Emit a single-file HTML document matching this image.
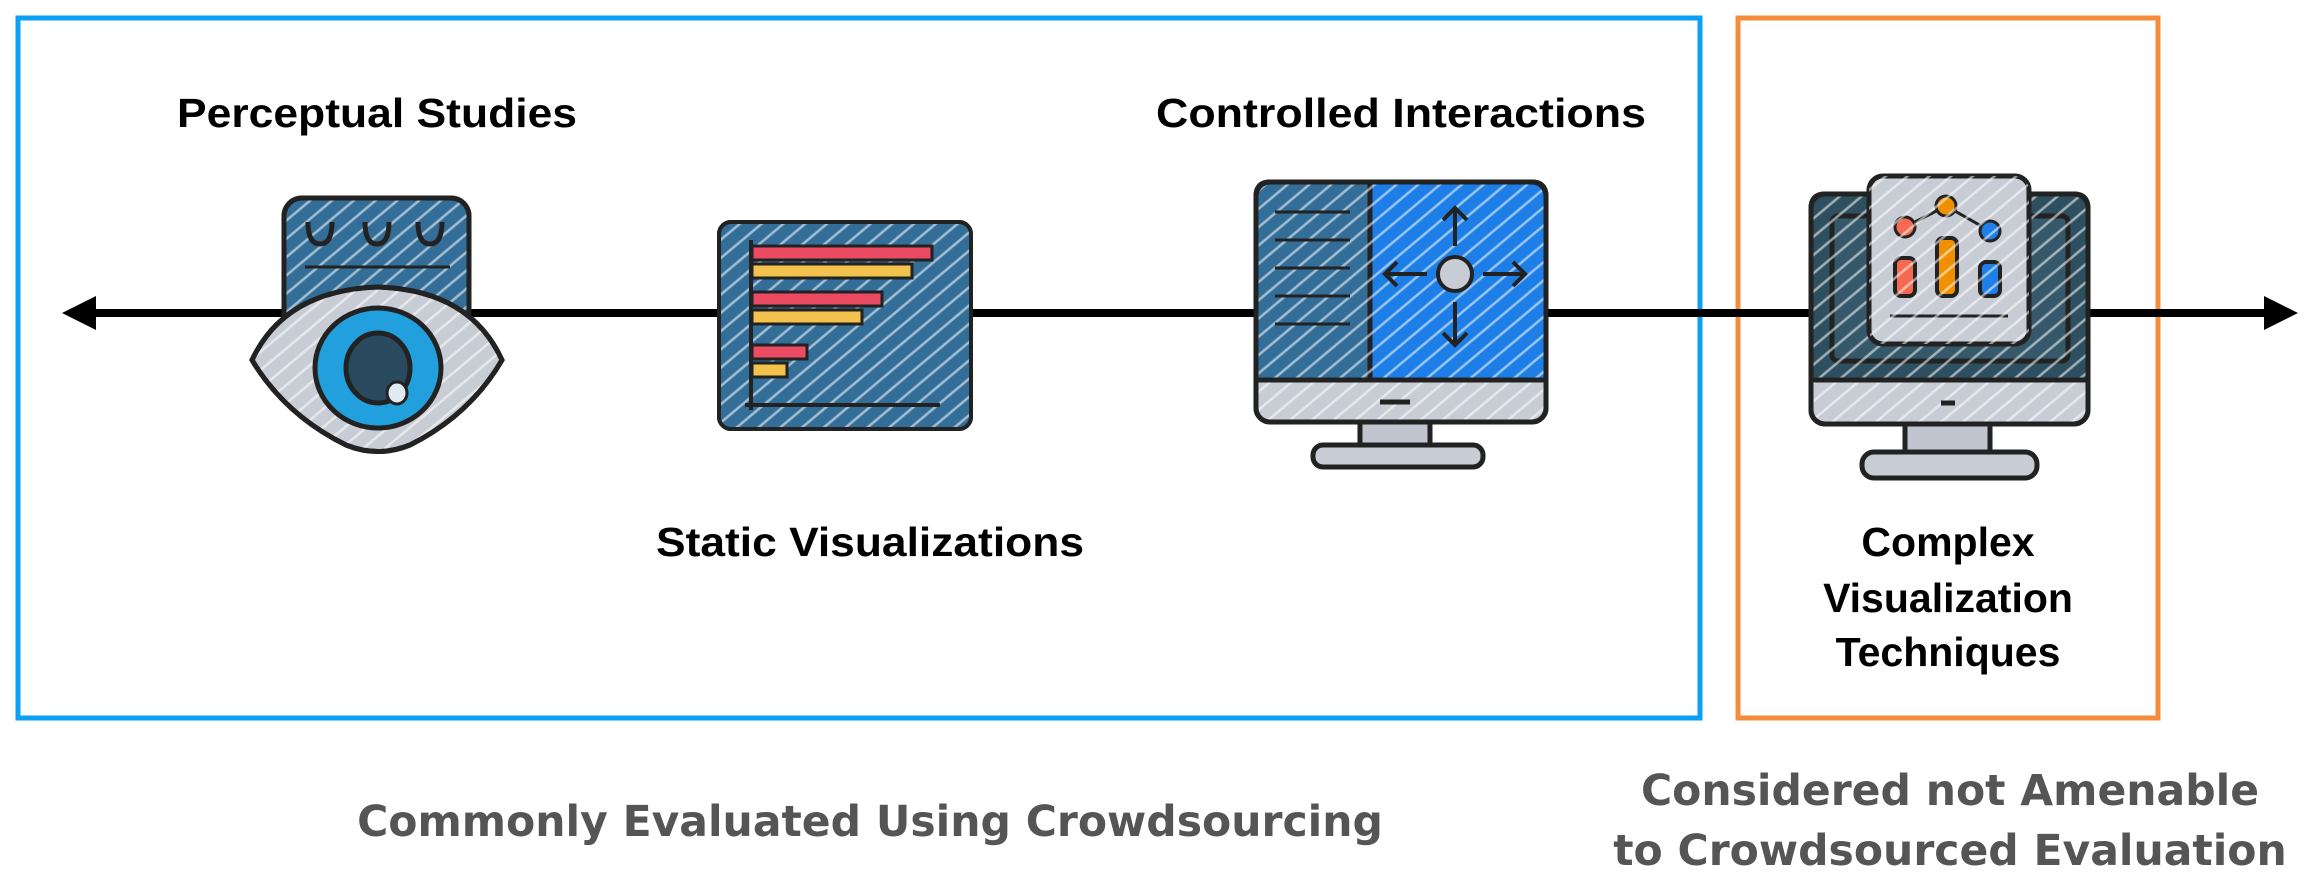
<!DOCTYPE html>
<html><head><meta charset="utf-8"><style>
html,body{margin:0;padding:0;background:#fff;}
svg{display:block;}
.t{font-family:"Liberation Sans",sans-serif;font-weight:bold;fill:#000;font-size:41px;text-anchor:middle;}
.g{font-family:"DejaVu Sans","Liberation Sans",sans-serif;font-weight:bold;fill:#555;font-size:42.5px;text-anchor:middle;}
</style></head><body>
<svg width="2308" height="888" viewBox="0 0 2308 888" xmlns="http://www.w3.org/2000/svg">
<defs>
<pattern id="h" width="14" height="14" patternUnits="userSpaceOnUse" patternTransform="rotate(-40)">
<rect width="14" height="14" fill="none"/><line x1="0" y1="3" x2="14" y2="3" stroke="#fff" stroke-opacity="0.55" stroke-width="2.5"/></pattern>
</defs>
<rect x="18" y="18" width="1682" height="700" fill="none" stroke="#0aa0f5" stroke-width="5"/>
<rect x="1738" y="18" width="420" height="700" fill="none" stroke="#f58c3c" stroke-width="5"/>
<line x1="90" y1="313" x2="2270" y2="313" stroke="#000" stroke-width="8"/>
<polygon points="62,313 96,296 96,330" fill="#000"/>
<polygon points="2298,313 2264,296 2264,330" fill="#000"/>

<!-- eye -->
<g stroke="#222" stroke-width="5">
<rect x="284" y="198" width="185" height="150" rx="18" fill="#336e98"/>
<rect x="284" y="198" width="185" height="150" rx="18" fill="url(#h)"/>
<line x1="305" y1="267" x2="450" y2="267" stroke-width="3"/>
<path d="M308,222 q0,22 12,22 q12,0 12,-22" fill="none"/><path d="M365,222 q0,22 12,22 q12,0 12,-22" fill="none"/><path d="M418,222 q0,22 12,22 q12,0 12,-22" fill="none"/>
<path d="M378,287 Q470,290 502,360 Q470,415 410,445 Q378,458 346,445 Q285,415 252,360 Q285,290 378,287Z" fill="#c8ccd4"/>
<path d="M378,287 Q470,290 502,360 Q470,415 410,445 Q378,458 346,445 Q285,415 252,360 Q285,290 378,287Z" fill="url(#h)"/>
<ellipse cx="378" cy="368" rx="63" ry="60" fill="#22a0dd"/>
<ellipse cx="378" cy="368" rx="32" ry="35" fill="#2a4a60"/>
<ellipse cx="397" cy="393" rx="10" ry="11" fill="#e0eaf2" stroke-width="3"/>
</g>

<!-- bar chart -->
<g stroke="#222" stroke-width="4">
<rect x="719" y="222" width="252" height="207" rx="12" fill="#336e98"/>
<rect x="719" y="222" width="252" height="207" rx="12" fill="url(#h)"/>
<line x1="751" y1="240" x2="751" y2="410"/><line x1="745" y1="405" x2="940" y2="405"/>
<rect x="752" y="246" width="180" height="14" fill="#ea4a62" stroke-width="3"/>
<rect x="752" y="264" width="160" height="14" fill="#f2c24c" stroke-width="3"/>
<rect x="752" y="292" width="130" height="14" fill="#ea4a62" stroke-width="3"/>
<rect x="752" y="310" width="110" height="14" fill="#f2c24c" stroke-width="3"/>
<rect x="752" y="345" width="55" height="14" fill="#ea4a62" stroke-width="3"/>
<rect x="752" y="363" width="35" height="14" fill="#f2c24c" stroke-width="3"/>
</g>

<!-- controlled monitor -->
<g stroke="#222" stroke-width="5">
<rect x="1360" y="420" width="70" height="30" fill="#c0c5d0"/>
<rect x="1313" y="445" width="170" height="22" rx="10" fill="#c8ccd4"/>
<rect x="1256" y="182" width="290" height="240" rx="14" fill="#c8ccd4"/>
<path d="M1270,182 H1370 V380 H1256 V196 Q1256,182 1270,182Z" fill="#336e98"/>
<path d="M1370,182 H1532 Q1546,182 1546,196 V380 H1370Z" fill="#1c7ee6"/>
<rect x="1256" y="182" width="290" height="240" rx="14" fill="url(#h)"/>
<line x1="1256" y1="380" x2="1546" y2="380"/>
<line x1="1380" y1="402" x2="1410" y2="402"/>
<g stroke-width="3"><line x1="1275" y1="212" x2="1350" y2="212"/><line x1="1275" y1="240" x2="1350" y2="240"/><line x1="1275" y1="268" x2="1350" y2="268"/><line x1="1275" y1="296" x2="1350" y2="296"/><line x1="1275" y1="324" x2="1350" y2="324"/></g>
<circle cx="1455" cy="274" r="17" fill="#c8ccd4" stroke-width="4"/>
<g stroke-width="4" fill="none"><path d="M1455,246 V208 M1443,220 L1455,208 L1467,220"/><path d="M1455,302 V345 M1443,333 L1455,345 L1467,333"/><path d="M1427,274 H1385 M1397,262 L1385,274 L1397,286"/><path d="M1483,274 H1525 M1513,262 L1525,274 L1513,286"/></g>
</g>

<!-- complex monitor -->
<g stroke="#222" stroke-width="5">
<rect x="1905" y="420" width="85" height="36" fill="#c0c5d0"/>
<rect x="1862" y="452" width="175" height="26" rx="12" fill="#c8ccd4"/>
<rect x="1811" y="194" width="277" height="230" rx="14" fill="#c8ccd4"/>
<path d="M1825,194 H2074 Q2088,194 2088,208 V380 H1811 V208 Q1811,194 1825,194Z" fill="#2e4f60"/>
<rect x="1832" y="216" width="236" height="145" rx="6" fill="#35596a"/>
<rect x="1811" y="194" width="277" height="230" rx="14" fill="url(#h)"/>
<line x1="1811" y1="380" x2="2088" y2="380"/>
<line x1="1941" y1="403" x2="1955" y2="403"/>
<rect x="1869" y="176" width="160" height="168" rx="14" fill="#c8ccd4"/>
<line x1="1890" y1="316" x2="2008" y2="316" stroke-width="3"/>
<polyline points="1905,227 1946,206 1990,231" fill="none" stroke-width="3"/>
<circle cx="1905" cy="227" r="10" fill="#f56a50" stroke-width="3"/>
<circle cx="1946" cy="206" r="10" fill="#f09000" stroke-width="3"/>
<circle cx="1990" cy="231" r="10" fill="#1f7fe8" stroke-width="3"/>
<rect x="1895" y="258" width="20" height="38" rx="6" fill="#f56a50" stroke-width="4"/>
<rect x="1937" y="238" width="20" height="58" rx="6" fill="#f09000" stroke-width="4"/>
<rect x="1980" y="262" width="20" height="34" rx="6" fill="#1f7fe8" stroke-width="4"/>
<rect x="1869" y="176" width="160" height="168" rx="14" fill="url(#h)" stroke="none"/>
</g>

<text class="t" x="377" y="127" textLength="400" lengthAdjust="spacingAndGlyphs">Perceptual Studies</text>
<text class="t" x="1401" y="127" textLength="490" lengthAdjust="spacingAndGlyphs">Controlled Interactions</text>
<text class="t" x="870" y="556" textLength="428" lengthAdjust="spacingAndGlyphs">Static Visualizations</text>
<text class="t" x="1948" y="556">Complex</text>
<text class="t" x="1948" y="612">Visualization</text>
<text class="t" x="1948" y="666">Techniques</text>
<text class="g" x="870" y="836">Commonly Evaluated Using Crowdsourcing</text>
<text class="g" x="1950" y="805">Considered not Amenable</text>
<text class="g" x="1950" y="865">to Crowdsourced Evaluation</text>
</svg>
</body></html>
